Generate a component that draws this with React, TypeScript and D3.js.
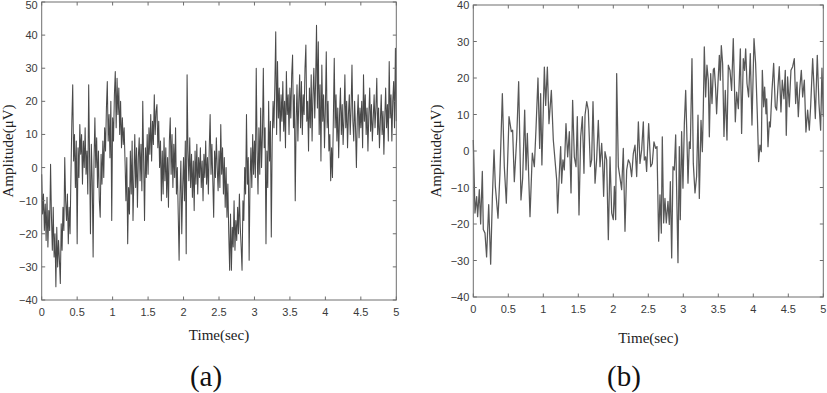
import React from 'react';
import * as d3 from 'd3';

// shared axis ticks
const timeTicks = [0, 0.5, 1, 1.5, 2, 2.5, 3, 3.5, 4, 4.5, 5];
const ampTicksA = [-40, -30, -20, -10, 0, 10, 20, 30, 40, 50];
const ampTicksB = [-40, -30, -20, -10, 0, 10, 20, 30, 40];

// (a) raw signal, one sample every 12.5 ms
const stepA = 0.0125;
const ampA = [
  -2, -14, -8, -19, -11, -22, -9, -24, -13, -19, 1, -15, -25, -12, -27, -20, -36, -18, -30, -22,
  -28, -35, -17, -25, -12, -19, 3, -10, -16, -8, -23, -12, -20, -2, 14, 25, 2, 10, -6, 8,
  -23, 6, -3, 13, 4, 10, -5, 8, 0, 12, -2, 5, -8, 25, 3, -20, 7, -4, -27, 2,
  15, 0, 9, -6, 5, -10, -15, 4, -5, 8, -3, 12, 5, 18, 26, 8, 16, 3, 20, -16,
  15, 8, 22, 29, 12, 27, 16, 24, 10, 20, 6, 15, 7, 12, 2, -10, 3, -23, -6, -14,
  5, -8, 8, -16, -3, 10, -6, 6, -12, 3, 9, -4, 7, -7, 20, 2, -16, 6, -3, 10,
  -2, 12, 4, 16, 2, 14, 7, 22, 10, 17, 19, 6, 14, 0, 8, -10, 5, -8, 9, -4,
  6, -9, 3, -12, 8, 15, -2, 10, -6, 7, -3, 12, -8, 0, -14, -28, -8, 2, -20, -6,
  3, -10, 8, -26, 28, 5, -4, 9, -6, 4, -9, 2, -13, 5, -5, 7, -8, 3, -3, 6,
  -6, 2, -10, 4, -3, 8, -5, 3, -8, 6, 16, -2, 7, -4, -15, 5, -3, 9, 0, -7,
  5, -6, 13, -2, 6, -8, 3, -12, 0, -15, -5, -20, -31, -14, -31, -18, -24, -10, -25, -16,
  -22, -12, -20, -8, -18, -24, -31, -10, -16, 0, -8, 16, -5, 3, -28, -4, 6, -6, 10, -2,
  8, -3, 30, 5, -8, 12, -2, 18, 0, 10, 30, 6, 12, -23, 5, -6, 20, 2, 14, -21,
  8, 20, 12, 25, 41, 10, 32, 15, 24, 8, 22, 14, 26, 11, 20, 6, 29, 16, 22, 10,
  24, 15, 28, 34, 12, 22, -10, 14, 25, 8, 20, 28, 12, 26, 10, 22, 16, 30, 37, 14,
  20, 5, 24, 12, 28, 8, 22, 30, 15, 26, 43, 18, 38, 10, 25, 2, 31, 14, 22, 6,
  18, 35, 12, 20, 5, 10, -4, 6, -3, 15, 33, 12, 22, 8, 18, 3, 16, 24, 10, 19,
  7, 15, 28, 12, 20, 6, 16, 22, 10, 18, 31, 14, 8, 20, 12, 0, 15, 22, 9, 18,
  12, 20, 6, 28, 14, 22, 10, 18, 5, 16, 24, 11, 19, 8, 15, 22, 12, 18, 27, 10,
  18, 6, 14, 22, 10, 17, 4, 15, 24, 12, 19, 8, 32, 15, 22, 8, 20, 26, 12, 36,
  14,
];

// (b) filtered signal, read point by point
const timeB = [
  0, 0.024, 0.048, 0.062, 0.086, 0.105, 0.129, 0.143, 0.167, 0.19, 0.22, 0.248, 0.272, 0.296, 0.315,
  0.353, 0.381, 0.415, 0.443, 0.472, 0.51, 0.543, 0.562, 0.586, 0.62, 0.648, 0.681, 0.705, 0.734, 0.753,
  0.772, 0.81, 0.843, 0.872, 0.896, 0.924, 0.948, 0.962, 0.98, 1.015, 1.034, 1.058, 1.081, 1.115, 1.143,
  1.191, 1.205, 1.229, 1.248, 1.262, 1.281, 1.3, 1.324, 1.348, 1.372, 1.396, 1.419, 1.443, 1.467, 1.486,
  1.51, 1.534, 1.558, 1.581, 1.596, 1.62, 1.643, 1.672, 1.691, 1.71, 1.739, 1.762, 1.786, 1.81, 1.834,
  1.848, 1.862, 1.881, 1.905, 1.929, 1.953, 1.977, 2.0, 2.015, 2.034, 2.048, 2.072, 2.1, 2.119, 2.143,
  2.167, 2.191, 2.215, 2.238, 2.262, 2.286, 2.31, 2.334, 2.358, 2.381, 2.405, 2.429, 2.443, 2.462, 2.476,
  2.505, 2.534, 2.557, 2.581, 2.605, 2.624, 2.648, 2.667, 2.686, 2.7, 2.719, 2.738, 2.757, 2.781, 2.8,
  2.815, 2.834, 2.853, 2.872, 2.891, 2.905, 2.924, 2.943, 2.957, 2.976, 2.995, 3.015, 3.034, 3.048, 3.067,
  3.086, 3.1, 3.124, 3.143, 3.167, 3.19, 3.21, 3.229, 3.253, 3.272, 3.286, 3.3, 3.319, 3.338, 3.357,
  3.372, 3.391, 3.41, 3.429, 3.443, 3.462, 3.476, 3.495, 3.515, 3.529, 3.543, 3.562, 3.581, 3.6, 3.624,
  3.643, 3.667, 3.69, 3.714, 3.743, 3.762, 3.786, 3.815, 3.833, 3.857, 3.876, 3.891, 3.91, 3.933, 3.957,
  3.981, 4.01, 4.033, 4.057, 4.076, 4.095, 4.114, 4.129, 4.148, 4.162, 4.181, 4.191, 4.21, 4.229, 4.243,
  4.267, 4.291, 4.314, 4.333, 4.352, 4.371, 4.395, 4.414, 4.438, 4.457, 4.471, 4.49, 4.514, 4.538, 4.562,
  4.586, 4.605, 4.624, 4.643, 4.662, 4.686, 4.705, 4.729, 4.752, 4.776, 4.8, 4.819, 4.848, 4.867, 4.886,
  4.914, 4.938, 4.962, 4.981, 5.0,
];
const ampB = [
  3, -17, -12.5, -18, -10.6, -20, -5.6, -21.5, -22.5, -29, -14.7, -31, -13, 0.3, -9.7,
  -18.4, -6, 15.7, -4.3, -14.3, 9.4, 5.3, 5.7, -8.4, 3.5, 19, -13.4, -7.5, 11.2, -5.2,
  4.8, -18, -0.6, -4.3, 6.2, 20, 0.7, 15.7, -3.8, 23, 12.5, 23, 7.5, 16.6, 3,
  -7.9, -17, -6.1, 1.2, -8.8, -2.4, -5.2, 7.5, -1.6, 5.3, -11.5, 13.9, -1.6, -4.3, 9.4,
  -17.5, 3.9, 9.4, -6.1, 9.8, 13.5, 11.2, -4.3, -2.4, 13.5, -8.8, -2.4, 8.4, -4.3, 2.1,
  -3.4, -12.4, -0.2, -2.4, -24.3, -1.6, -17, -18.8, -9.7, -18.8, 21.2, -4.3, -7.9, -10.6, 0.7,
  -22, -5.2, -2.4, -3.4, -7, -0.7, 1.6, -7, 8, -3.4, 0.3, 8, -2.5, -1.6, -5.6,
  7.5, -4.3, -3.4, 2.5, 0.7, 1.2, -24.7, -12, -22.5, 3.9, -19.7, -13, -19.7, -13.8, -20.1,
  -8.4, -29.3, -4.3, -5.2, 4.4, -10.6, -30.6, 1.2, -18.8, 5.3, -10.2, 7.5, 16.6, 6.6, -8.8,
  2.5, 0.7, 25.3, -3.4, -11.5, -7, 9.8, -13, 8.4, -0.2, 11.6, 28.5, 14.8, 23.5, 19.4,
  3.9, 21.2, 13, 22.3, 22.7, 17, 10.2, 18.5, 26.2, 19.4, 28.9, 23.9, 4, 16.6, 3,
  23.5, 22.1, 16.6, 30.8, 8, 16.1, 11.6, 28, 4.8, 25.3, 22.1, 28, 18.5, 14.8, 26.7,
  7.1, 30.8, 24, 10.2, -2.9, 1.6, -0.2, 22.1, 12.1, 17.5, 10.2, 14.3, 1.2, 8, 6.6,
  16.6, 24, 12.1, 11.2, 17.5, 23.1, 10.7, 19.4, 14.3, 22.1, 4.3, 20.3, 12.1, 22.1, 23.1,
  25.3, 13, 18.9, 9.4, 16.6, 22.1, 14.8, 19.4, 5.2, 11.2, 5.7, 12.1, 25.3, 17.5, 8.9,
  26.2, 13, 5.7, 22.7, 9.4,
];

const tickFont = '"Liberation Sans", Arial, sans-serif';
const labelFont = '"Liberation Serif", "Times New Roman", serif';
const fmt = d3.format('~g');

type PanelProps = {
  left: number;
  right: number;
  top: number;
  bottom: number;
  yMax: number;
  yTicks: number[];
  points: [number, number][];
  lineWidth: number;
  lineColor: string;
  yLabelX: number;
  xLabelY: number;
  tag: string;
  tagX: number;
};

const Panel = ({ left, right, top, bottom, yMax, yTicks, points, lineWidth, lineColor, yLabelX, xLabelY, tag, tagX }: PanelProps) => {
  const x = d3.scaleLinear().domain([0, 5]).range([left, right]);
  const y = d3.scaleLinear().domain([-40, yMax]).range([bottom, top]);
  const line = d3
    .line<[number, number]>()
    .x((d) => x(d[0]))
    .y((d) => y(d[1]));
  const tk = 3.5;
  const midY = (top + bottom) / 2;

  return (
    <g>
      <path d={line(points) || ''} fill="none" stroke={lineColor} strokeWidth={lineWidth} strokeLinejoin="round" />
      <rect x={left} y={top} width={right - left} height={bottom - top} fill="none" stroke="#6e6e6e" strokeWidth={1} />
      {timeTicks.map((t) => (
        <g key={'x' + t}>
          <line x1={x(t)} x2={x(t)} y1={bottom} y2={bottom - tk} stroke="#6e6e6e" />
          <line x1={x(t)} x2={x(t)} y1={top} y2={top + tk} stroke="#6e6e6e" />
          <text x={x(t)} y={bottom + 16} textAnchor="middle" fontFamily={tickFont} fontSize={11} fill="#3a3a3a">
            {fmt(t)}
          </text>
        </g>
      ))}
      {yTicks.map((v) => (
        <g key={'y' + v}>
          <line x1={left} x2={left + tk} y1={y(v)} y2={y(v)} stroke="#6e6e6e" />
          <line x1={right} x2={right - tk} y1={y(v)} y2={y(v)} stroke="#6e6e6e" />
          <text x={left - 4} y={Math.max(y(v) + 4, 9)} textAnchor="end" fontFamily={tickFont} fontSize={11} fill="#3a3a3a">
            {fmt(v)}
          </text>
        </g>
      ))}
      <text
        transform={`translate(${yLabelX},${midY}) rotate(-90)`}
        textAnchor="middle"
        fontFamily={labelFont}
        fontSize={15}
        fill="#222"
      >
        Amplitude(μV)
      </text>
      <text x={(left + right) / 2} y={xLabelY} textAnchor="middle" fontFamily={labelFont} fontSize={15} fill="#222">
        Time(sec)
      </text>
      <text x={tagX} y={386} textAnchor="middle" fontFamily={labelFont} fontSize={29} fill="#111">
        {tag}
      </text>
    </g>
  );
};

const App = () => {
  const pointsA: [number, number][] = ampA.map((v, i) => [i * stepA, v]);
  const pointsB: [number, number][] = ampB.map((v, i) => [timeB[i], v]);

  return (
    <svg width={827} height={393} style={{ position: 'absolute', left: 0, top: 0, background: '#fff' }}>
      <Panel
        left={41.7}
        right={396.3}
        top={2}
        bottom={300}
        yMax={50}
        yTicks={ampTicksA}
        points={pointsA}
        lineWidth={1.05}
        lineColor="#4a4a4a"
        yLabelX={13}
        xLabelY={340}
        tag="(a)"
        tagX={206}
      />
      <Panel
        left={473.3}
        right={823.3}
        top={5}
        bottom={297}
        yMax={40}
        yTicks={ampTicksB}
        points={pointsB}
        lineWidth={1.25}
        lineColor="#585858"
        yLabelX={441}
        xLabelY={343}
        tag="(b)"
        tagX={624}
      />
    </svg>
  );
};

export default App;
